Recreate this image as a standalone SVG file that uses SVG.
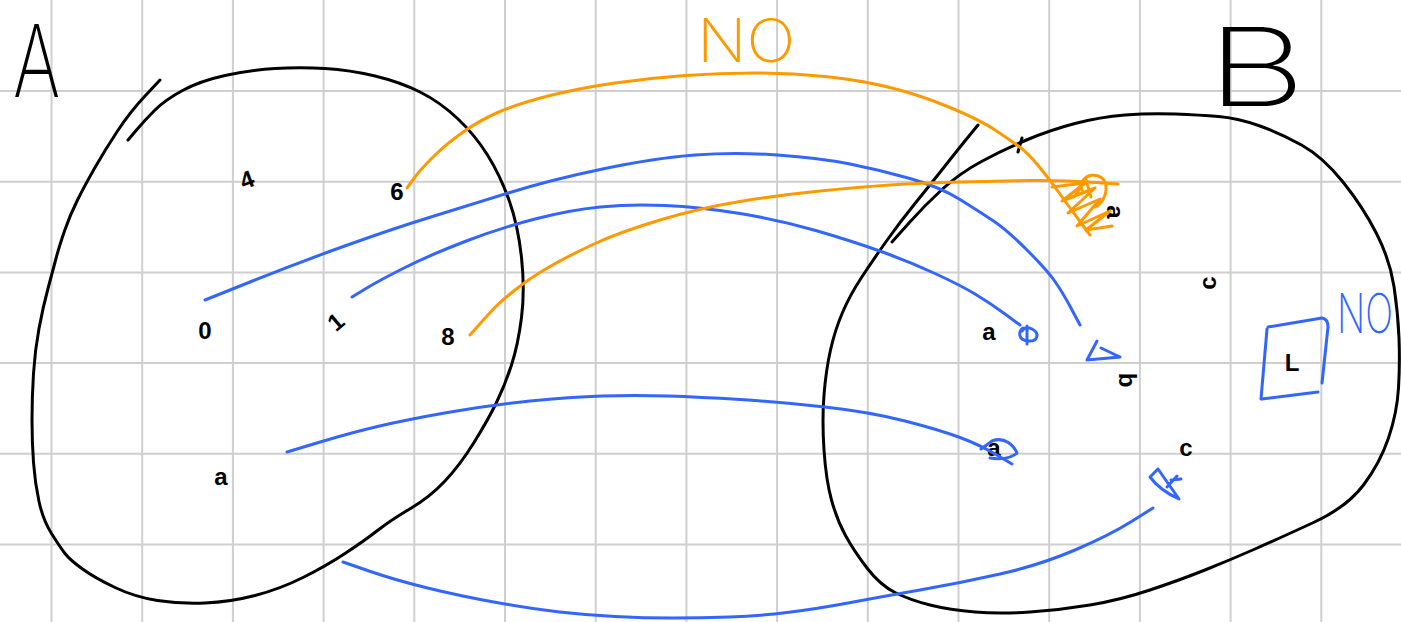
<svg xmlns="http://www.w3.org/2000/svg" width="1401" height="622" viewBox="0 0 1401 622">
<style>
.grid line{stroke:#cfcfcf;stroke-width:2}
.bk{fill:none;stroke:#000;stroke-width:3;stroke-linecap:round;stroke-linejoin:round}
.bl{fill:none;stroke:#3366ff;stroke-width:3;stroke-linecap:round;stroke-linejoin:round}
.or{fill:none;stroke:#ff9900;stroke-width:3;stroke-linecap:round;stroke-linejoin:round}
.big{font-family:"Inter","Liberation Sans",sans-serif;font-weight:200}
.sm{font-family:"Liberation Sans",sans-serif;font-weight:bold;font-size:24px;fill:#000}
</style>
<rect width="1401" height="622" fill="#fff"/>
<g class="grid">
<line x1="51.5" y1="0" x2="51.5" y2="622"/><line x1="142.2" y1="0" x2="142.2" y2="622"/><line x1="232.9" y1="0" x2="232.9" y2="622"/><line x1="323.6" y1="0" x2="323.6" y2="622"/><line x1="414.3" y1="0" x2="414.3" y2="622"/><line x1="505" y1="0" x2="505" y2="622"/><line x1="595.7" y1="0" x2="595.7" y2="622"/><line x1="686.4" y1="0" x2="686.4" y2="622"/><line x1="777.1" y1="0" x2="777.1" y2="622"/><line x1="867.8" y1="0" x2="867.8" y2="622"/><line x1="958.5" y1="0" x2="958.5" y2="622"/><line x1="1049.2" y1="0" x2="1049.2" y2="622"/><line x1="1139.9" y1="0" x2="1139.9" y2="622"/><line x1="1230.6" y1="0" x2="1230.6" y2="622"/><line x1="1321.3" y1="0" x2="1321.3" y2="622"/>
<line x1="0" y1="91" x2="1401" y2="91"/><line x1="0" y1="181.7" x2="1401" y2="181.7"/><line x1="0" y1="272.4" x2="1401" y2="272.4"/><line x1="0" y1="363.1" x2="1401" y2="363.1"/><line x1="0" y1="453.8" x2="1401" y2="453.8"/><line x1="0" y1="544.5" x2="1401" y2="544.5"/>
</g>
<g id="setA">
<path class="bk" d="M128,140 L136.5,130 Q145,120 155,110 Q165,100 182.5,90.5 Q200,81 225,75.5 Q250,70 275,68.5 Q300,67 325,68.5 Q350,70 375,76 Q400,82 420,92 Q440,102 457.5,118.5 Q475,135 487.5,155 Q500,175 509,200 Q518,225 521.5,257.5 Q525,290 521.5,317.5 Q518,345 511.5,365 Q505,385 496.5,402.5 Q488,420 474,442.5 Q460,465 445,481 Q430,497 410.5,508.5 Q391,520 377.5,530.5 Q364,541 345,553.5 Q326,566 303,577.5 Q280,589 255,595.5 Q230,602 205,603 Q180,604 157.5,600.5 Q135,597 115,587.5 Q95,578 82.5,569 Q70,560 65,553.5 Q60,547 51.5,533.5 Q43,520 39,501.5 Q35,483 33.5,462.5 Q32,442 32,419.5 Q32,397 33.5,373.5 Q35,350 39,328.5 Q43,307 48,288.5 Q53,270 56,258.5 Q59,247 64.5,231 Q70,215 77.5,200 Q85,185 95,167.5 Q105,150 117.5,131 Q130,112 145,96 L160,80"/>
<text class="big" x="0" y="0" font-size="100" transform="translate(13,97) scale(0.72,1)">A</text>
<text class="sm" x="247" y="188" text-anchor="middle" transform="rotate(-20 247 180)">4</text>
<text class="sm" x="397" y="200" text-anchor="middle">6</text>
<text class="sm" x="205" y="339" text-anchor="middle">0</text>
<text class="sm" x="336" y="330" text-anchor="middle" transform="rotate(-40 336 322)">1</text>
<text class="sm" x="448" y="345" text-anchor="middle">8</text>
<text class="sm" x="221" y="485" text-anchor="middle" font-size="32">a</text>
</g>
<g id="setB">
<path class="bk" d="M892,242 L908.5,223.5 Q925,205 942.5,189 Q960,173 981.5,161.5 Q1003,150 1026.5,140 Q1050,130 1075,123.5 Q1100,117 1125,115 Q1150,113 1175,114 Q1200,115 1218.5,116.5 Q1237,118 1258.5,125.5 Q1280,133 1301.5,145 Q1323,157 1343,182 Q1363,207 1376.5,233.5 Q1390,260 1394,286.5 Q1398,313 1399,338 Q1400,363 1398.5,388 Q1397,413 1388.5,438 Q1380,463 1363.5,485 Q1347,507 1313.5,522.5 Q1280,538 1255,549 Q1230,560 1205,570 Q1180,580 1150,590 Q1120,600 1090,605 Q1060,610 1030,612 Q1000,614 975,612 Q950,610 930,605 Q910,600 895,592.5 Q880,585 867,568 Q854,551 845.5,535.5 Q837,520 831.5,500 Q826,480 824,450 Q822,420 824,395 Q826,370 830.5,350 Q835,330 842.5,312.5 Q850,295 861.5,277.5 Q873,260 886.5,241 Q900,222 915,203.5 Q930,185 945,166 Q960,147 969,136 L978,125"/>
<polyline class="bk" points="1018,152 1022,138"/>
<text class="big" x="0" y="0" font-size="108" transform="translate(1207,106) scale(1.42,1)">B</text>
<text class="sm" x="1115" y="220" text-anchor="middle" transform="rotate(90 1115 212)">a</text>
<text class="sm" x="989" y="340" text-anchor="middle">a</text>
<text class="sm" x="1208" y="291" text-anchor="middle" transform="rotate(-90 1208 283)">c</text>
<text class="sm" x="1126" y="387" text-anchor="middle" transform="rotate(90 1126 380)">b</text>
<text class="sm" x="1292" y="371" text-anchor="middle">L</text>
<text class="sm" x="994" y="456" text-anchor="middle">a</text>
<text class="sm" x="1186" y="456" text-anchor="middle">c</text>
</g>
<g id="connectors">
<path class="bl" d="M205,300 L252.5,281 Q300,262 347.5,245 Q395,228 432.5,216.5 Q470,205 510,192.5 Q550,180 602.5,169 Q655,158 695,155 Q735,152 777.5,155 Q820,158 850,164 Q880,170 910,178.5 Q940,187 960,199.5 Q980,212 993.5,221 Q1007,230 1027,250 Q1047,270 1055,281.5 Q1063,293 1071.5,309 L1080,325"/>
<polyline class="bl" points="1097,341 1087,360 1120,357 1101,348"/>
<path class="bl" d="M352,297 L366,288.5 Q380,280 405,267.5 Q430,255 465,241.5 Q500,228 535,219 Q570,210 600,207 Q630,204 665,205.5 Q700,207 740,213.5 Q780,220 817.5,231 Q855,242 882.5,252 Q910,262 935,273.5 Q960,285 975,294 Q990,303 1005,314 L1020,325"/>
<path class="bl" d="M1023,328 C1018,332 1018,340 1028,341 C1038,342 1040,333 1032,329 C1028,327 1024,327 1022,331 M1027,326 L1027,344"/>
<path class="bl" d="M287,452 L318.5,442.5 Q350,433 377.5,426.5 Q405,420 447.5,412.5 Q490,405 530,401 Q570,397 602.5,396 Q635,395 667.5,396 Q700,397 740,399.5 Q780,402 825,407 Q870,412 905,421 Q940,430 960,437.5 Q980,445 996,454.5 L1012,464"/>
<path class="bl" d="M981,449 L992,441 M992,441 C1005,436 1014,446 1017,453 C1012,458 1000,460 990,458"/>
<path class="bl" d="M343,562 L369,571 Q395,580 427.5,588 Q460,596 496.5,602.5 Q533,609 559.5,612 Q586,615 615,616.5 Q644,618 672.5,618 Q701,618 729.5,617 Q758,616 787,612.5 Q816,609 848,603 Q880,597 920,590 Q960,583 1000,574 Q1040,565 1075,550 Q1110,535 1131.5,521.5 L1153,508"/>
<path class="bl" d="M1158,469 L1150,477 C1158,488 1168,494 1179,499 Z M1167,487 L1177,476 M1171,480 L1181,479"/>
<path class="bl" d="M1268,327 L1322,318 Q1328,319 1328,327 L1322,383 M1262,399 L1318,392 M1267,329 L1261,399"/>
<path class="or" d="M407,188 L413.5,179 Q420,170 432.5,157.5 Q445,145 462.5,132.5 Q480,120 500,111.5 Q520,103 550,95.5 Q580,88 615,83 Q650,78 685,75.5 Q720,73 755,73 Q790,73 825,76.5 Q860,80 890,87.5 Q920,95 950,107.5 Q980,120 995,130 Q1010,140 1019,146.5 Q1028,153 1039,166.5 Q1050,180 1060,194 Q1070,208 1080,221.5 L1090,235"/>
<path class="or" d="M470,335 L477.5,326.5 Q485,318 492.5,310 Q500,302 515,290 Q530,278 550,266.5 Q570,255 595,243.5 Q620,232 660,220 Q700,208 740,201.5 Q780,195 820,191 Q860,187 890,185 Q920,183 960,182 Q1000,181 1030,180.5 Q1060,180 1089,182 L1118,184"/>
<path class="or" d="M1052,187 L1085,183 L1062,201 L1095,188 L1068,213 L1100,199 L1077,226 L1110,211 L1086,230 L1112,226 M1074,197 L1086,180 L1091,197 M1082,190 C1078,172 1104,170 1106,186 C1107,196 1101,204 1095,207"/>
</g>
<g id="labels">
<text class="big" x="0" y="0" font-size="60" fill="#ff9900" transform="translate(697,62) scale(1.08,1)">NO</text>
<text class="big" x="0" y="0" font-size="55" fill="#3366ff" transform="translate(1337,333) scale(0.67,1)">NO</text>
</g>
</svg>
